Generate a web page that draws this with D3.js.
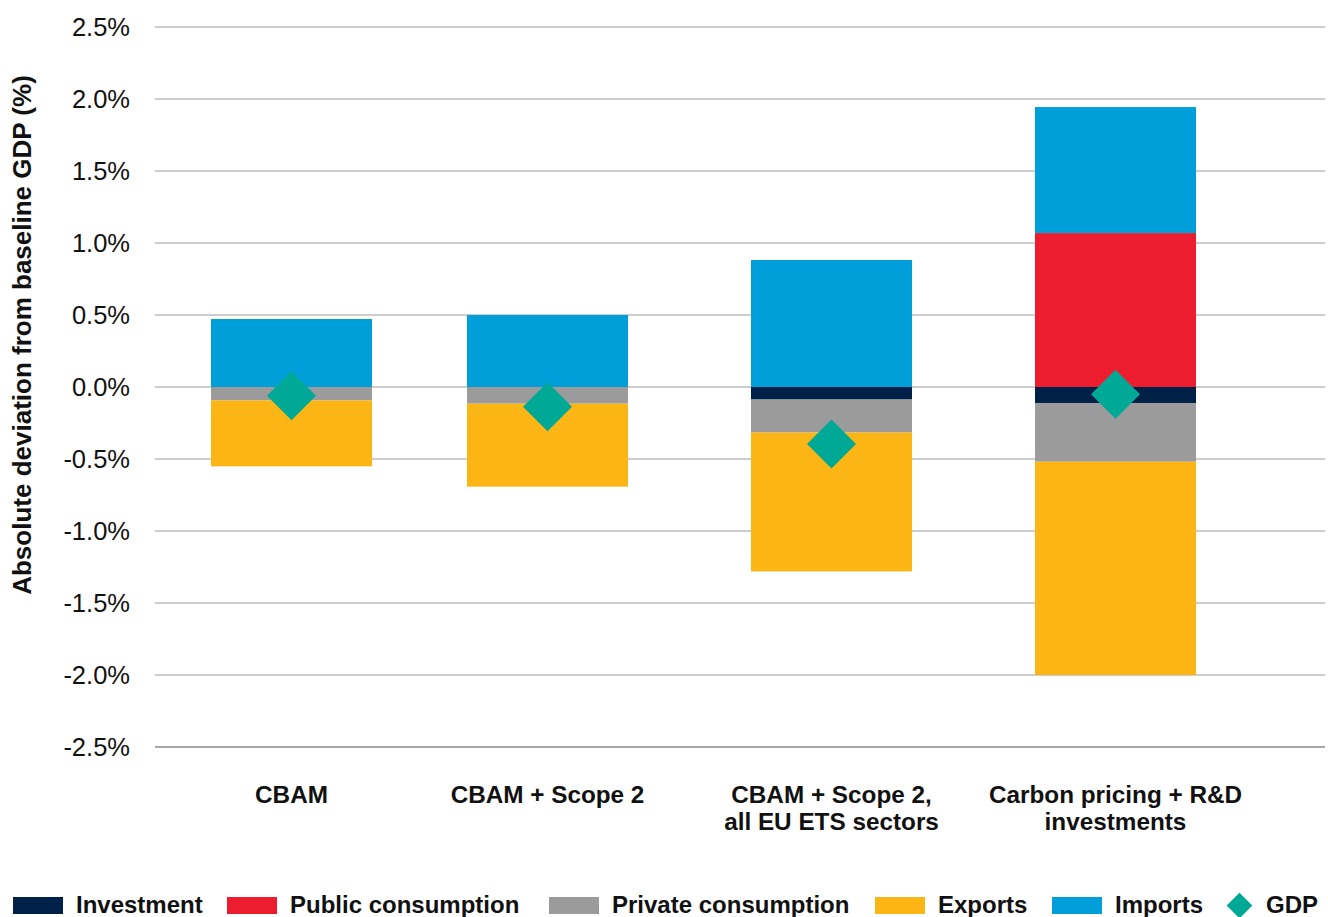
<!DOCTYPE html>
<html>
<head>
<meta charset="utf-8">
<script src="https://cdn.jsdelivr.net/npm/d3@7"></script>
<style>
  body { margin: 0; background: #fff; }
  text { font-family: "Liberation Sans", Arial, sans-serif; fill: #111; }
</style>
</head>
<body>
<div id="chart"></div>
<script>
// data (percent of baseline GDP)
var categories = ["CBAM", "CBAM + Scope 2", "CBAM + Scope 2, all EU ETS sectors", "Carbon pricing + R&D investments"];
var categoryLines = [["CBAM"], ["CBAM + Scope 2"], ["CBAM + Scope 2,", "all EU ETS sectors"], ["Carbon pricing + R&D", "investments"]];
var seriesNames = ["Investment", "Public consumption", "Private consumption", "Exports", "Imports"];
var investment = [0, 0, -0.087, -0.111];
var publicConsumption = [0, 0, 0, 1.069];
var privateConsumption = [-0.093, -0.116, -0.229, -0.408];
var exportsVals = [-0.458, -0.576, -0.965, -1.481];
var importsVals = [0.472, 0.50, 0.882, 0.875];
var gdp = [-0.06, -0.137, -0.396, -0.051];
var yTicks = [2.5, 2.0, 1.5, 1.0, 0.5, 0, -0.5, -1.0, -1.5, -2.0, -2.5];

var colors = ["#002147", "#ed1c2e", "#9b9b9b", "#fbb615", "#009fda"];
var gdpColor = "#00a896";

var svgWidth = 1328;
var svgHeight = 917;

var svg = d3.select("#chart").append("svg")
  .attr("width", svgWidth)
  .attr("height", svgHeight);

// build rows for the stack
var rows = categories.map(function(c, i) {
  return {
    cat: c,
    "Investment": investment[i],
    "Public consumption": publicConsumption[i],
    "Private consumption": privateConsumption[i],
    "Exports": exportsVals[i],
    "Imports": importsVals[i]
  };
});

var yScale = d3.scaleLinear().domain([-2.5, 2.5]).range([747, 27]);

// category centres are not evenly spaced in the original
var xScale = d3.scaleOrdinal().domain(categories).range([291.5, 547.5, 831.5, 1115.5]);
var barWidth = 161;

// gridlines
svg.append("g").selectAll("line")
  .data(yTicks)
  .enter()
  .append("line")
  .attr("x1", 155)
  .attr("x2", 1325)
  .attr("y1", d => yScale(d))
  .attr("y2", d => yScale(d))
  .attr("stroke", d => d === -2.5 ? "#8a8a8a" : "#bdbdbd")
  .attr("stroke-width", 1.5);

// y tick labels
svg.append("g").selectAll("text")
  .data(yTicks)
  .enter()
  .append("text")
  .attr("x", 130)
  .attr("y", d => yScale(d))
  .attr("dy", "0.36em")
  .attr("text-anchor", "end")
  .attr("font-size", "25.5px")
  .text(d => d3.format(".1f")(d).replace("−", "-") + "%");

// y axis title
svg.append("text")
  .attr("transform", "translate(31, 335) rotate(-90)")
  .attr("text-anchor", "middle")
  .attr("font-size", "26px")
  .attr("font-weight", "bold")
  .attr("fill", "#222")
  .text("Absolute deviation from baseline GDP (%)");

// stacked bars
var stack = d3.stack().keys(seriesNames).offset(d3.stackOffsetDiverging);
var stacked = stack(rows);

svg.append("g").selectAll("g")
  .data(stacked)
  .enter()
  .append("g")
  .attr("fill", (d, i) => colors[i])
  .selectAll("rect")
  .data(d => d)
  .enter()
  .append("rect")
  .attr("x", d => xScale(d.data.cat) - barWidth / 2)
  .attr("width", barWidth)
  .attr("y", d => yScale(Math.max(d[0], d[1])))
  .attr("height", d => Math.abs(yScale(d[0]) - yScale(d[1])));

// GDP diamonds
var bigDiamond = d3.symbol().type(d3.symbolSquare).size(1200);
svg.append("g").selectAll("path")
  .data(gdp)
  .enter()
  .append("path")
  .attr("d", bigDiamond)
  .attr("fill", gdpColor)
  .attr("transform", (d, i) => `translate(${xScale(categories[i])}, ${yScale(d)}) rotate(45)`);

// category labels
var catGroup = svg.append("g");
categoryLines.forEach(function(lines, i) {
  var t = catGroup.append("text")
    .attr("text-anchor", "middle")
    .attr("font-size", "24.3px")
    .attr("font-weight", "bold");
  lines.forEach(function(l, j) {
    t.append("tspan")
      .attr("x", xScale(categories[i]))
      .attr("y", 803 + j * 27)
      .text(l);
  });
});

// legend
var legendX = [13, 227, 549, 875, 1052];
var legend = svg.append("g");
seriesNames.forEach(function(name, i) {
  legend.append("rect")
    .attr("x", legendX[i])
    .attr("y", 897)
    .attr("width", 50)
    .attr("height", 17)
    .attr("fill", colors[i]);
  legend.append("text")
    .attr("x", legendX[i] + 63)
    .attr("y", 913)
    .attr("font-size", "24px")
    .attr("font-weight", "bold")
    .text(name);
});
legend.append("path")
  .attr("d", d3.symbol().type(d3.symbolSquare).size(330))
  .attr("fill", gdpColor)
  .attr("transform", "translate(1239.5, 905.5) rotate(45)");
legend.append("text")
  .attr("x", 1266)
  .attr("y", 913)
  .attr("font-size", "24px")
  .attr("font-weight", "bold")
  .text("GDP");
</script>
</body>
</html>
